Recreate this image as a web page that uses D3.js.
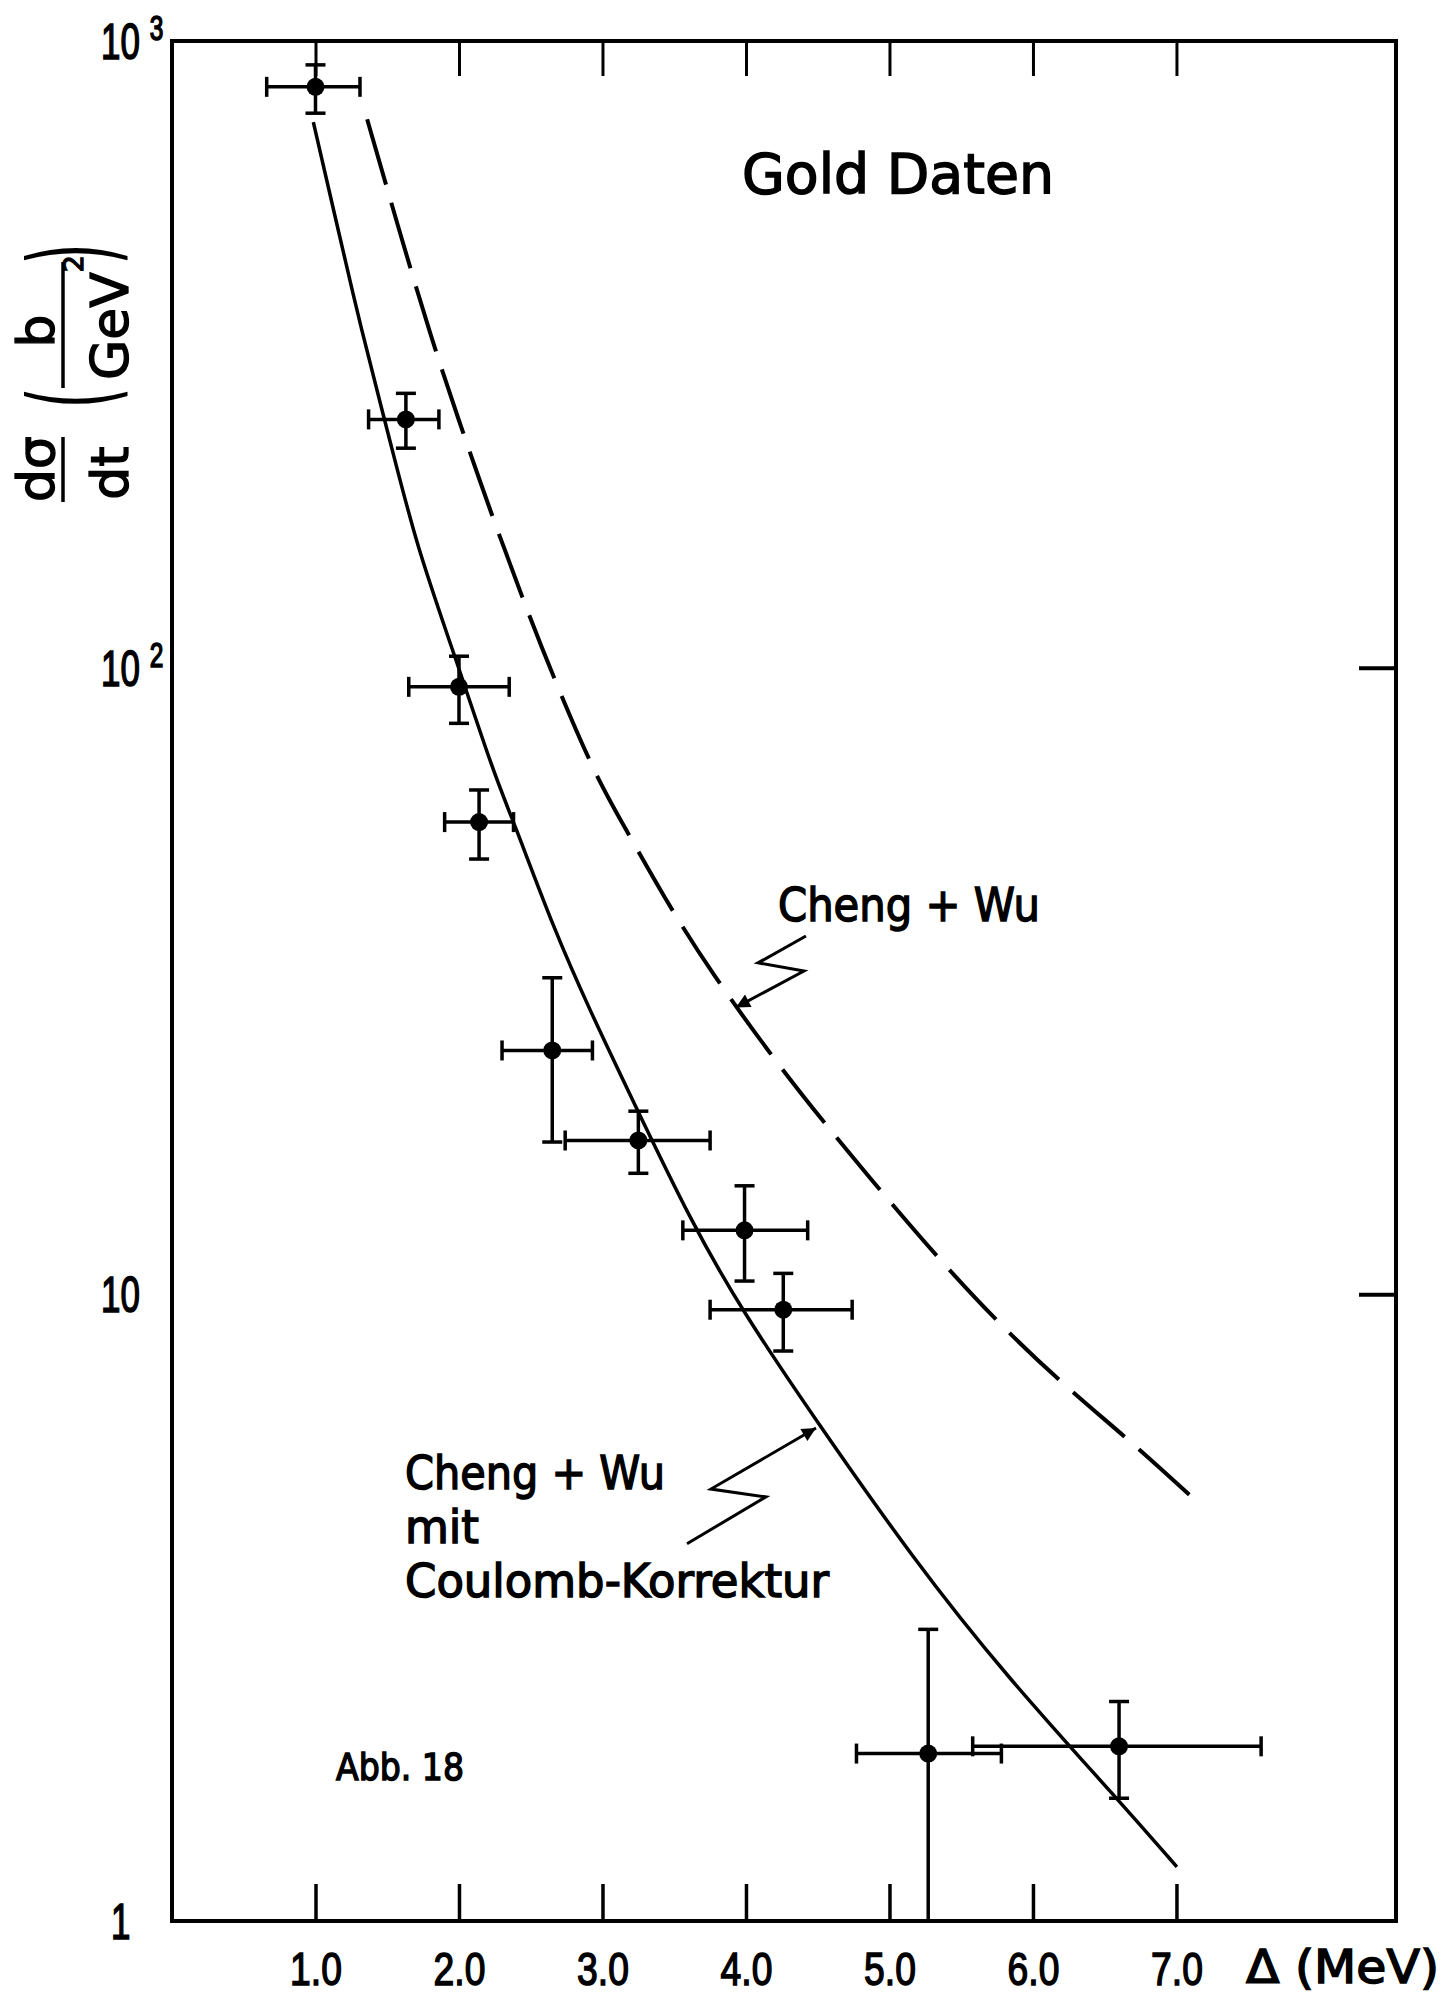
<!DOCTYPE html>
<html>
<head>
<meta charset="utf-8">
<script src="https://cdn.jsdelivr.net/npm/d3@7"></script>
<style>
  body { margin: 0; background: #fff; }
  svg { display: block; }
</style>
</head>
<body>
<svg id="chart"></svg>
<script>
var width = 1455;
var height = 2001;

var wordFont = "'DejaVu Sans', sans-serif";
var numFont = "'Liberation Sans', 'DejaVu Sans', sans-serif";

// Gold data: delta (MeV) with x errors, dsigma/dt (b/GeV^2) with y errors
var deltaValues = [1.00, 1.63, 2.00, 2.14, 2.65, 3.25, 3.99, 4.26, 5.27, 6.60];
var deltaLow    = [0.66, 1.37, 1.65, 1.90, 2.30, 2.74, 3.56, 3.75, 4.77, 5.58];
var deltaHigh   = [1.31, 1.86, 2.35, 2.38, 2.93, 3.75, 4.43, 4.74, 5.78, 7.59];
var sigmaValues = [845, 249, 93.2, 56.7, 24.5, 17.6, 12.65, 9.45, 1.85, 1.90];
var sigmaLow    = [767, 224, 81.5, 49.5, 17.5, 15.6, 10.5, 8.12, 1.0, 1.57];
var sigmaHigh   = [916, 274, 104.3, 63.8, 32.0, 19.6, 14.9, 10.8, 2.92, 2.24];

// Cheng + Wu mit Coulomb-Korrektur (solid)
var coulombX = [0.985, 1.129, 1.321, 1.512, 1.705, 1.962, 2.249, 2.375, 2.662, 2.918,
                3.206, 3.622, 3.972, 4.486, 5.166, 5.805, 6.606, 7.003];
var coulombY = [742, 534, 344, 234, 156, 106, 67.1, 57.3, 38.2, 28.2,
                20.5, 13.0, 9.42, 6.30, 3.78, 2.47, 1.55, 1.22];

// Cheng + Wu (dashed)
var chengX = [1.36, 1.610, 1.801, 1.993, 2.216, 2.439, 2.666, 2.953, 3.143, 3.429,
              3.749, 4.263, 4.647, 4.997, 5.380, 5.798, 6.244, 6.711, 7.150];
var chengY = [750, 475, 339, 250, 178.5, 129.6, 95.5, 67.1, 56.3, 43.0,
              32.8, 22.6, 17.6, 14.1, 11.15, 8.81, 7.07, 5.75, 4.65];

// annotation arrows (data coordinates)
var chengArrow = [[4.418, 37.3], [4.084, 33.8], [4.404, 32.8], [3.930, 28.7]];
var coulombArrow = [[3.589, 4.00], [4.139, 4.75], [3.756, 4.89], [4.488, 6.12]];

var xTicks = [1, 2, 3, 4, 5, 6, 7];
var yLabelValues = [1000, 100, 10, 1];
var yLabelBase = ["10", "10", "10", "1"];
var yLabelExp = ["3", "2", "", ""];
var rightTicks = [100, 10];

var svg = d3.select("#chart")
  .attr("width", width)
  .attr("height", height);

svg.append("rect")
  .attr("width", width)
  .attr("height", height)
  .attr("fill", "#fff");

var xScale = d3.scaleLinear()
  .domain([0, 8.53])
  .range([172, 1396]);

var yScale = d3.scaleLog()
  .domain([1, 1000])
  .range([1921, 41]);

var defs = svg.append("defs");
defs.append("marker")
    .attr("id", "head")
    .attr("viewBox", "0 0 10 10")
    .attr("refX", 10)
    .attr("refY", 5)
    .attr("markerUnits", "userSpaceOnUse")
    .attr("markerWidth", 30)
    .attr("markerHeight", 14)
    .attr("orient", "auto")
  .append("path")
    .attr("d", "M0,0 L10,5 L0,10 Z")
    .attr("fill", "#000");

// Frame
svg.append("rect")
  .attr("x", xScale(0))
  .attr("y", yScale(1000))
  .attr("width", xScale(8.53) - xScale(0))
  .attr("height", yScale(1) - yScale(1000))
  .attr("fill", "none")
  .attr("stroke", "#000")
  .attr("stroke-width", 4);

// Bottom ticks + labels
var gBottom = svg.append("g")
  .attr("transform", `translate(0, ${yScale(1)})`)
  .call(d3.axisBottom(xScale)
    .tickValues(xTicks)
    .tickSize(-37)
    .tickPadding(31)
    .tickFormat(d3.format(".1f")));
gBottom.select(".domain").remove();
gBottom.selectAll("line").attr("stroke", "#000").attr("stroke-width", 3.5);
gBottom.selectAll("text")
  .style("font-family", numFont)
  .style("font-size", "46px")
  .attr("fill", "#000")
  .attr("stroke", "#000")
  .attr("stroke-width", 1.5)
  .attr("transform", "scale(0.81,1)");

// Top ticks
var gTop = svg.append("g")
  .attr("transform", `translate(0, ${yScale(1000)})`)
  .call(d3.axisBottom(xScale).tickValues(xTicks).tickSize(35).tickFormat(""));
gTop.select(".domain").remove();
gTop.selectAll("text").remove();
gTop.selectAll("line").attr("stroke", "#000").attr("stroke-width", 3);

// Right ticks
var gRight = svg.append("g")
  .attr("transform", `translate(${xScale(8.53)}, 0)`)
  .call(d3.axisLeft(yScale).tickValues(rightTicks).tickSize(37).tickFormat(""));
gRight.select(".domain").remove();
gRight.selectAll("text").remove();
gRight.selectAll("line").attr("stroke", "#000").attr("stroke-width", 4);

// Y labels with exponents
yLabelValues.forEach(function(v, i) {
  var g = svg.append("g")
    .attr("transform", `translate(${i === 3 ? 111 : 101}, ${yScale(v) + 18}) scale(0.7,1)`);
  var t = g.append("text")
    .style("font-family", numFont)
    .style("font-size", "50px")
    .attr("fill", "#000")
    .attr("stroke", "#000")
    .attr("stroke-width", 1.6)
    .text(yLabelBase[i]);
  if (yLabelExp[i]) {
    t.append("tspan")
      .attr("dx", 14)
      .attr("dy", -19)
      .style("font-size", "35px")
      .text(yLabelExp[i]);
  }
});

// Curves
var line = d3.line()
  .x(d => xScale(d[0]))
  .y(d => yScale(d[1]))
  .curve(d3.curveBasis);

svg.append("path")
  .datum(d3.zip(chengX, chengY))
  .attr("d", line)
  .attr("fill", "none")
  .attr("stroke", "#000")
  .attr("stroke-width", 4)
  .attr("stroke-dasharray", "68 19");

svg.append("path")
  .datum(d3.zip(coulombX, coulombY))
  .attr("d", line)
  .attr("fill", "none")
  .attr("stroke", "#000")
  .attr("stroke-width", 3.5);

// Error bars and points
var pts = deltaValues.map((d, i) => ({
  x: d, y: sigmaValues[i],
  xl: deltaLow[i], xh: deltaHigh[i],
  yl: sigmaLow[i], yh: sigmaHigh[i]
}));
var cap = 10;
var gPts = svg.append("g").attr("stroke", "#000").attr("stroke-width", 3.5);
pts.forEach(function(p) {
  var cx = xScale(p.x), cy = yScale(p.y);
  var x1 = xScale(p.xl), x2 = xScale(p.xh);
  var y1 = yScale(p.yh), y2 = yScale(p.yl);
  gPts.append("line").attr("x1", x1).attr("x2", x2).attr("y1", cy).attr("y2", cy);
  gPts.append("line").attr("x1", x1).attr("x2", x1).attr("y1", cy - cap).attr("y2", cy + cap);
  gPts.append("line").attr("x1", x2).attr("x2", x2).attr("y1", cy - cap).attr("y2", cy + cap);
  gPts.append("line").attr("x1", cx).attr("x2", cx).attr("y1", y1).attr("y2", y2);
  gPts.append("line").attr("x1", cx - cap).attr("x2", cx + cap).attr("y1", y1).attr("y2", y1);
  if (p.yl > 1) {
    gPts.append("line").attr("x1", cx - cap).attr("x2", cx + cap).attr("y1", y2).attr("y2", y2);
  }
});
svg.selectAll("circle.pt")
  .data(pts)
  .enter()
  .append("circle")
    .attr("class", "pt")
    .attr("cx", d => xScale(d.x))
    .attr("cy", d => yScale(d.y))
    .attr("r", 9)
    .attr("fill", "#000");

// Annotation arrows
var arrowLine = d3.line()
  .x(d => xScale(d[0]))
  .y(d => yScale(d[1]));
[chengArrow, coulombArrow].forEach(function(a) {
  svg.append("path")
    .attr("d", arrowLine(a))
    .attr("fill", "none")
    .attr("stroke", "#000")
    .attr("stroke-width", 3)
    .attr("stroke-linejoin", "miter")
    .attr("marker-end", "url(#head)");
});

// Text labels
function label(x, y, str, size, len) {
  return svg.append("text")
    .attr("x", x)
    .attr("y", y)
    .attr("textLength", len)
    .attr("lengthAdjust", "spacingAndGlyphs")
    .style("font-family", wordFont)
    .style("font-size", size + "px")
    .attr("fill", "#000")
    .attr("stroke", "#000")
    .attr("stroke-width", 1.5)
    .text(str);
}
label(742, 193, "Gold Daten", 56, 312);
label(778, 921, "Cheng + Wu", 47, 262);
label(405, 1489, "Cheng + Wu", 47, 260);
label(405, 1543, "mit", 47, 74);
label(405, 1597, "Coulomb-Korrektur", 47, 424);
label(336, 1780, "Abb. 18", 38, 128);
label(1246, 1983, "Δ (MeV)", 46, 193);

// Y axis title (rotated)
function rot(sx, sy, str, size, anchor, extra) {
  return svg.append("text")
    .attr("transform", `translate(${sx}, ${sy}) rotate(-90)` + (extra || ""))
    .attr("text-anchor", anchor)
    .style("font-family", wordFont)
    .style("font-size", size + "px")
    .attr("fill", "#000")
    .attr("stroke", "#000")
    .attr("stroke-width", 1.3)
    .text(str);
}
rot(54, 469, "dσ", 52, "middle");
rot(128, 473, "dt", 52, "middle");
rot(112, 398, "(", 54, "middle", " scale(1,2.15)").attr("stroke-width", 0);
rot(54, 331, "b", 52, "middle");
rot(128, 380, "GeV", 52, "start")
  .append("tspan")
    .attr("dy", -45)
    .style("font-size", "27px")
    .text("2");
rot(112, 254, ")", 54, "middle", " scale(1,2.15)").attr("stroke-width", 0);

svg.append("line")
  .attr("x1", 63).attr("x2", 63).attr("y1", 437).attr("y2", 502)
  .attr("stroke", "#000").attr("stroke-width", 3.5);
svg.append("line")
  .attr("x1", 63).attr("x2", 63).attr("y1", 262).attr("y2", 388)
  .attr("stroke", "#000").attr("stroke-width", 3.5);
</script>
</body>
</html>
